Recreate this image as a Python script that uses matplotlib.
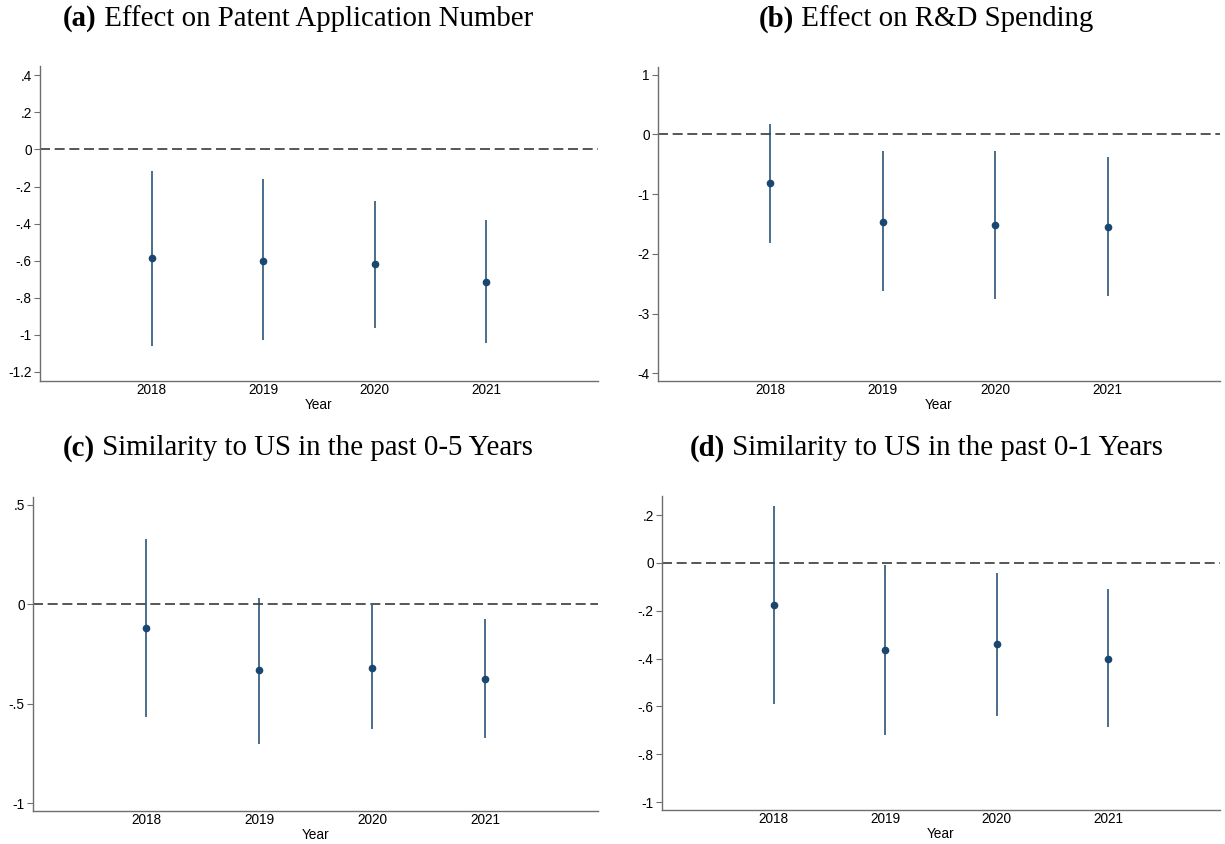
import matplotlib
matplotlib.use("Agg")
import matplotlib.pyplot as plt

# ── data ─────────────────────────────────────────────────────────────────────
YEARS = [2018, 2019, 2020, 2021]

PATENT_COEF = [-0.587, -0.600, -0.620, -0.713]
PATENT_LO   = [-1.060, -1.027, -0.962, -1.043]
PATENT_HI   = [-0.114, -0.162, -0.276, -0.378]

RD_COEF = [-0.82, -1.46, -1.52, -1.55]
RD_LO   = [-1.81, -2.63, -2.76, -2.71]
RD_HI   = [0.17, -0.28, -0.27, -0.38]

SIM05_COEF = [-0.120, -0.333, -0.318, -0.374]
SIM05_LO   = [-0.566, -0.702, -0.626, -0.672]
SIM05_HI   = [0.330, 0.030, -0.003, -0.076]

SIM01_COEF = [-0.175, -0.363, -0.340, -0.400]
SIM01_LO   = [-0.590, -0.720, -0.640, -0.685]
SIM01_HI   = [0.240, -0.010, -0.040, -0.110]

PANELS = [
    ("(a)", " Effect on Patent Application Number", PATENT_COEF, PATENT_LO, PATENT_HI,
     [0.4, 0.2, 0, -0.2, -0.4, -0.6, -0.8, -1, -1.2],
     [".4", ".2", "0", "-.2", "-.4", "-.6", "-.8", "-1", "-1.2"], (-1.249, 0.45)),
    ("(b)", " Effect on R&D Spending", RD_COEF, RD_LO, RD_HI,
     [1, 0, -1, -2, -3, -4], ["1", "0", "-1", "-2", "-3", "-4"], (-4.13, 1.13)),
    ("(c)", " Similarity to US in the past 0-5 Years", SIM05_COEF, SIM05_LO, SIM05_HI,
     [0.5, 0, -0.5, -1], [".5", "0", "-.5", "-1"], (-1.04, 0.54)),
    ("(d)", " Similarity to US in the past 0-1 Years", SIM01_COEF, SIM01_LO, SIM01_HI,
     [0.2, 0, -0.2, -0.4, -0.6, -0.8, -1],
     [".2", "0", "-.2", "-.4", "-.6", "-.8", "-1"], (-1.033, 0.28)),
]

# ── layout (pixel boxes: left, right, top, bottom) ────────────────────────────
W, H = 1225, 844
BOXES = [(40, 598, 66, 381), (658, 1220, 67, 381),
         (33, 598, 497, 811), (662, 1220, 496, 810)]
TITLE_POS = [(298, 19), (926, 19), (298, 448), (926, 448)]

NAVY   = "#1a476f"
SPINE  = "#6e6e6e"
SERIF  = "Liberation Serif"
SANS   = "Liberation Sans"

fig = plt.figure(figsize=(W / 100, H / 100), dpi=100, facecolor="white")

for (tag, title, coef, lo, hi, yt, ytl, ylim), (l, r, t, b), (tx, ty) in zip(PANELS, BOXES, TITLE_POS):
    ax = fig.add_axes([l / W, 1 - b / H, (r - l) / W, (b - t) / H])
    ax.axhline(0, color="#3a3a3a", lw=1.2, ls=(0, (6, 2.8)), zorder=1)
    ax.vlines(YEARS, lo, hi, color=NAVY, lw=1.1, zorder=2)
    ax.plot(YEARS, coef, "o", color=NAVY, ms=4.5, zorder=3)

    ax.set_xlim(2017.0, 2022.0)
    ax.set_ylim(*ylim)
    ax.set_xticks(YEARS)
    ax.set_xticklabels([str(y) for y in YEARS], family=SANS, fontsize=9.8)
    ax.set_yticks(yt)
    ax.set_yticklabels(ytl, family=SANS, fontsize=9.8)
    ax.tick_params(axis="x", length=0, pad=1.5)
    ax.tick_params(axis="y", length=4, width=0.8, color=SPINE, pad=2)
    ax.set_xlabel("Year", family=SANS, fontsize=9.8, labelpad=1)
    ax.spines[["top", "right"]].set_visible(False)
    for s in ("left", "bottom"):
        ax.spines[s].set_color(SPINE)
        ax.spines[s].set_linewidth(1.0)

    # panel title: bold tag + regular text, both serif
    tag_t = fig.text(0, 0, tag, family=SERIF, fontweight="bold", fontsize=20.8)
    fig.canvas.draw()
    tw = tag_t.get_window_extent().width
    body = fig.text(0, 0, title, family=SERIF, fontsize=20.8)
    bw = body.get_window_extent().width
    x0 = tx - (tw + bw) / 2
    tag_t.set_position((x0 / W, 1 - ty / H))
    tag_t.set_va("center")
    body.set_position(((x0 + tw) / W, 1 - ty / H))
    body.set_va("center")

fig.savefig("out.png", dpi=100, facecolor="white")
